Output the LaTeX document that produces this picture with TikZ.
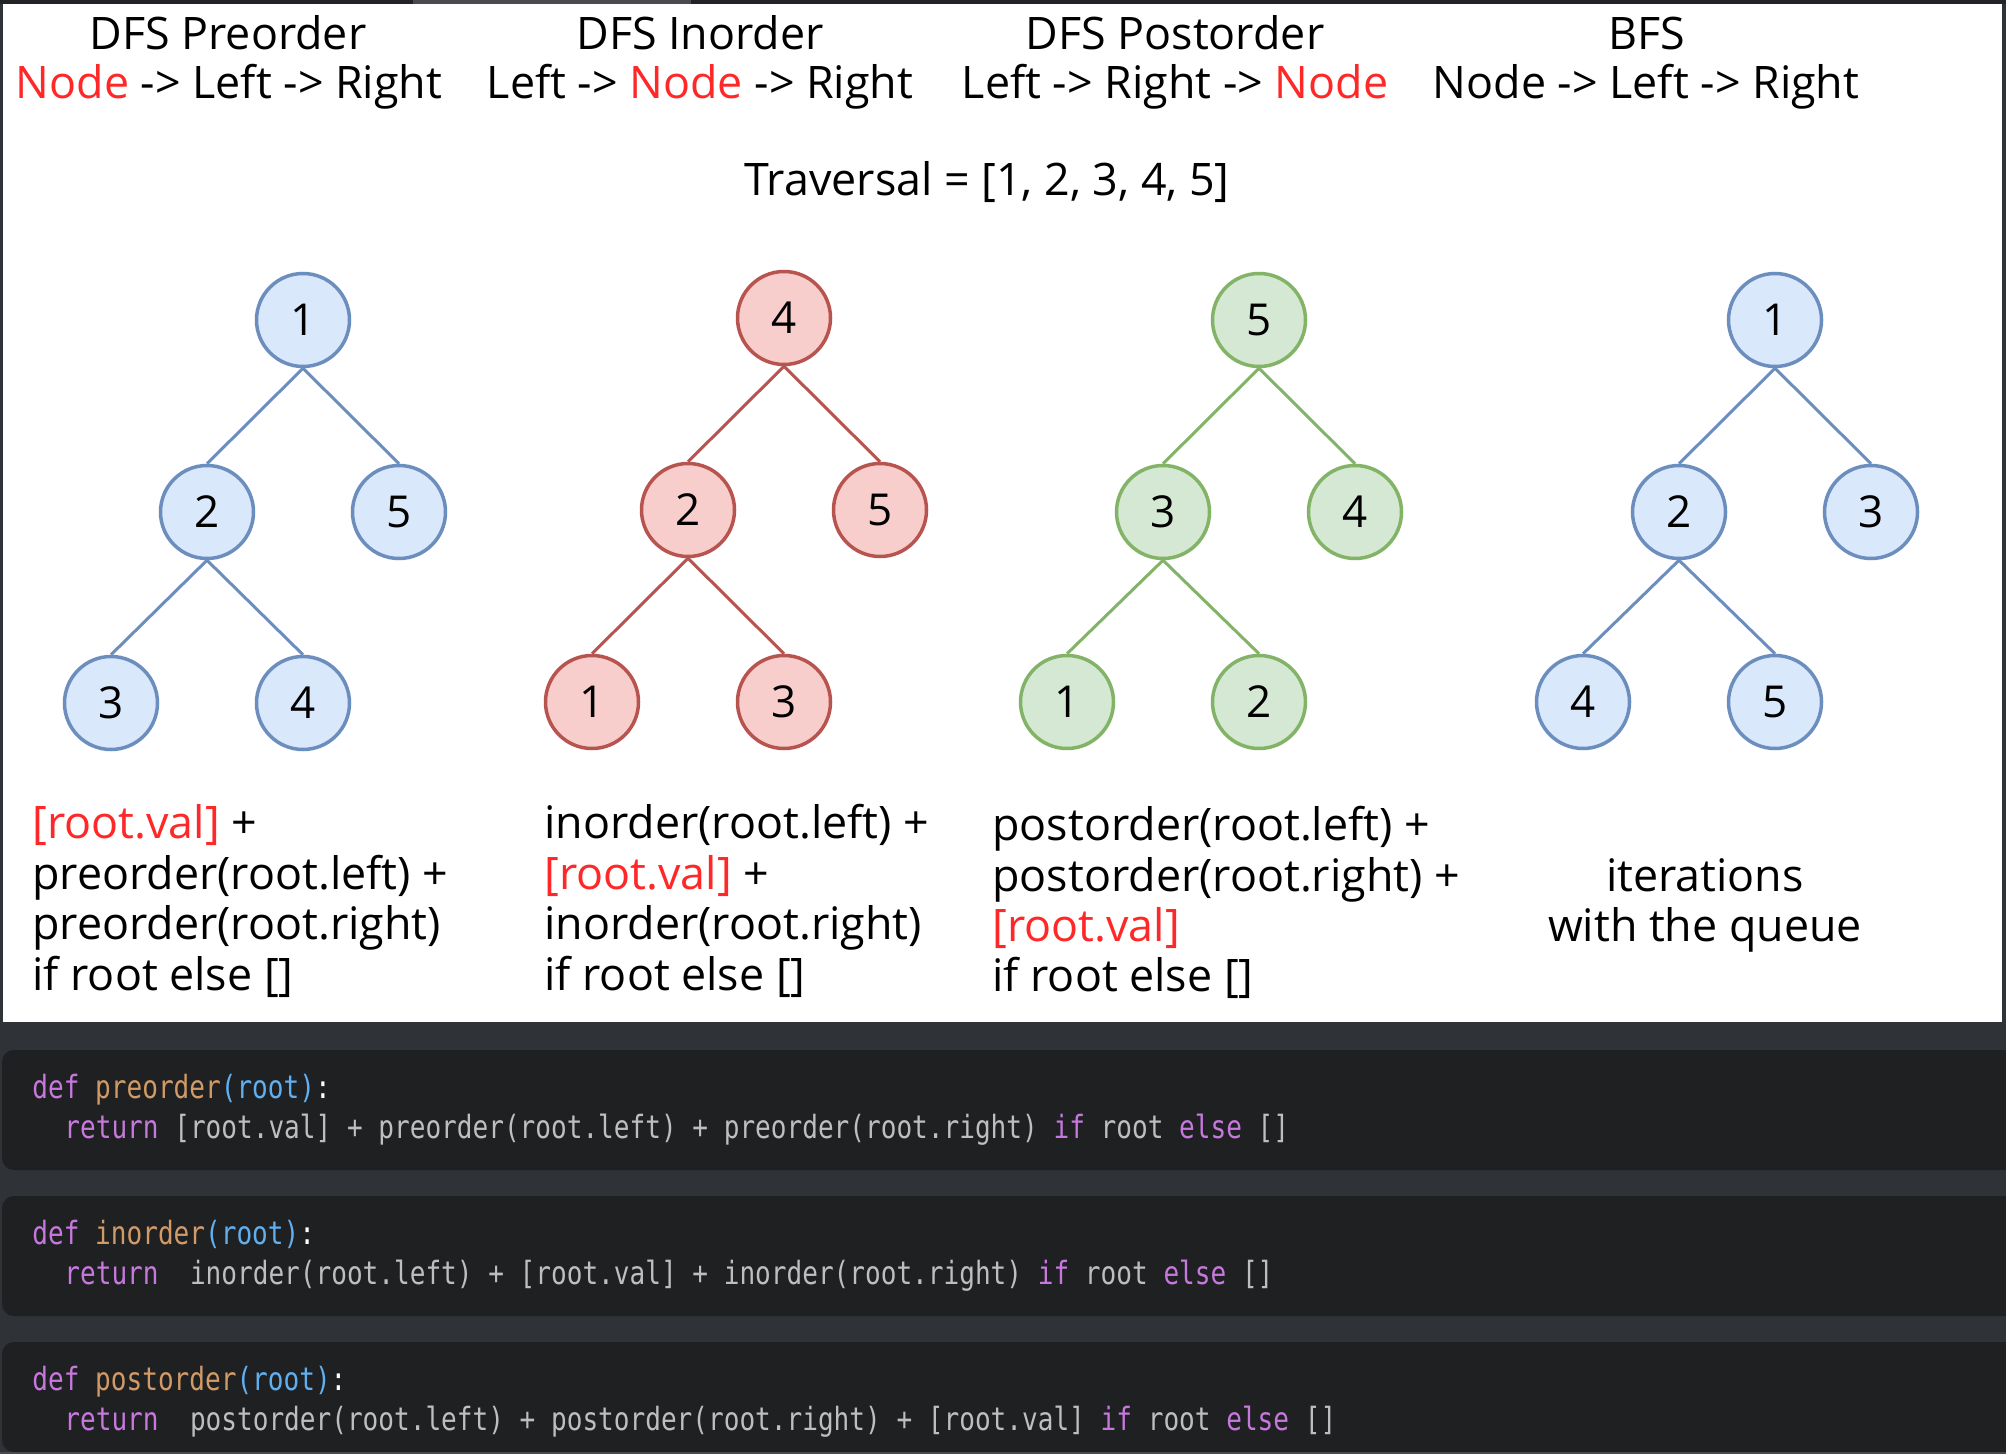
\documentclass[tikz,border=0pt]{standalone}
\usepackage{fontspec}
\setmainfont{Open Sans}
\newfontfamily\codefont[FakeStretch=0.815]{DejaVu Sans Mono}

\definecolor{panelbg}{RGB}{47,50,55}
\definecolor{topdark}{RGB}{34,35,38}
\definecolor{toplight}{RGB}{72,74,78}
\definecolor{blockbg}{RGB}{31,32,34}
\definecolor{hlred}{RGB}{255,40,40}
\definecolor{bluefill}{RGB}{218,232,252}
\definecolor{bluedraw}{RGB}{108,142,191}
\definecolor{redfill}{RGB}{248,206,204}
\definecolor{reddraw}{RGB}{184,84,80}
\definecolor{greenfill}{RGB}{213,232,212}
\definecolor{greendraw}{RGB}{130,179,102}
\definecolor{kwpurple}{RGB}{198,120,221}
\definecolor{fnorange}{RGB}{209,154,102}
\definecolor{prmblue}{RGB}{97,175,239}
\definecolor{codegray}{RGB}{190,190,190}

% colour macros for the code lines
\newcommand{\kwd}[1]{\textcolor{kwpurple}{#1}}
\newcommand{\fnm}[1]{\textcolor{fnorange}{#1}}
\newcommand{\prm}[1]{\textcolor{prmblue}{#1}}
\newcommand{\hl}[1]{\textcolor{hlred}{#1}}

\begin{document}
\begin{tikzpicture}[x=0.5pt, y=-0.5pt,
  txt/.style={font=\fontsize{22.4}{25}\selectfont, inner sep=0pt},
  codetxt/.style={font=\codefont\fontsize{16}{19}\selectfont, text=codegray, anchor=base west, inner sep=0pt},
  tnode/.style={circle, line width=1.75pt, minimum size=46.5pt, inner sep=0pt, font=\fontsize{22}{25}\selectfont},
  bluenode/.style={tnode, draw=bluedraw, fill=bluefill},
  rednode/.style={tnode, draw=reddraw, fill=redfill},
  greennode/.style={tnode, draw=greendraw, fill=greenfill},
  blueedge/.style={draw=bluedraw, line width=1.5pt},
  rededge/.style={draw=reddraw, line width=1.5pt},
  greenedge/.style={draw=greendraw, line width=1.5pt}]

  % Background, white panel and code blocks
  \useasboundingbox (0,0) rectangle (2006,1454);
  \fill[panelbg] (0,0) rectangle (2006,1454);
  \fill[topdark] (0,0) rectangle (2006,4);
  \fill[toplight] (413,0) rectangle (691,4);
  \fill[white] (3,4) rectangle (2002,1022);
  \fill[blockbg, rounded corners=6] (2,1050) rectangle (2040,1170);
  \fill[blockbg, rounded corners=6] (2,1196) rectangle (2040,1316);
  \fill[blockbg, rounded corners=6] (2,1342) rectangle (2040,1452);
  \fill[toplight] (0,1452) rectangle (2006,1454);

  % Headings
  \node[txt, anchor=base] (hpre) at (228,50) {DFS Preorder};
  \node[txt, anchor=base] (hin) at (700,50) {DFS Inorder};
  \node[txt, anchor=base] (hpost) at (1175,50) {DFS Postorder};
  \node[txt, anchor=base] (hbfs) at (1647,50) {BFS};
  \node[txt, anchor=base] (opre) at (229,99) {\hl{Node} -> Left -> Right};
  \node[txt, anchor=base] (oin) at (700,99) {Left -> \hl{Node} -> Right};
  \node[txt, anchor=base] (opost) at (1175,99) {Left -> Right -> \hl{Node}};
  \node[txt, anchor=base] (obfs) at (1646,99) {Node -> Left -> Right};
  \node[txt, anchor=base] (trav) at (987,196) {Traversal = [1, 2, 3, 4, 5]};

  % DFS Preorder tree
  \node[bluenode] (P1) at (303,320) {1};
  \node[bluenode] (P2) at (207,512) {2};
  \node[bluenode] (P5) at (399,512) {5};
  \node[bluenode] (P3) at (111,703) {3};
  \node[bluenode] (P4) at (303,703) {4};
  \draw[blueedge] (P1.south) -- (P2.north);
  \draw[blueedge] (P1.south) -- (P5.north);
  \draw[blueedge] (P2.south) -- (P3.north);
  \draw[blueedge] (P2.south) -- (P4.north);

  % DFS Inorder tree
  \node[rednode] (I4) at (784,318) {4};
  \node[rednode] (I2) at (688,510) {2};
  \node[rednode] (I5) at (880,510) {5};
  \node[rednode] (I1) at (592,702) {1};
  \node[rednode] (I3) at (784,702) {3};
  \draw[rededge] (I4.south) -- (I2.north);
  \draw[rededge] (I4.south) -- (I5.north);
  \draw[rededge] (I2.south) -- (I1.north);
  \draw[rededge] (I2.south) -- (I3.north);

  % DFS Postorder tree
  \node[greennode] (Q5) at (1259,320) {5};
  \node[greennode] (Q3) at (1163,512) {3};
  \node[greennode] (Q4) at (1355,512) {4};
  \node[greennode] (Q1) at (1067,702) {1};
  \node[greennode] (Q2) at (1259,702) {2};
  \draw[greenedge] (Q5.south) -- (Q3.north);
  \draw[greenedge] (Q5.south) -- (Q4.north);
  \draw[greenedge] (Q3.south) -- (Q1.north);
  \draw[greenedge] (Q3.south) -- (Q2.north);

  % BFS tree
  \node[bluenode] (B1) at (1775,320) {1};
  \node[bluenode] (B2) at (1679,512) {2};
  \node[bluenode] (B3) at (1871,512) {3};
  \node[bluenode] (B4) at (1583,702) {4};
  \node[bluenode] (B5) at (1775,702) {5};
  \draw[blueedge] (B1.south) -- (B2.north);
  \draw[blueedge] (B1.south) -- (B3.north);
  \draw[blueedge] (B2.south) -- (B4.north);
  \draw[blueedge] (B2.south) -- (B5.north);

  % Recursive formulas
  \node[txt, anchor=base west] (fpre1) at (32,838) {\hl{[root.val]} +};
  \node[txt, anchor=base west] (fpre2) at (32,889) {preorder(root.left) +};
  \node[txt, anchor=base west] (fpre3) at (32,939) {preorder(root.right)};
  \node[txt, anchor=base west] (fpre4) at (32,990) {if root else []};
  \node[txt, anchor=base west] (fin1) at (544,838) {inorder(root.left) +};
  \node[txt, anchor=base west] (fin2) at (544,889) {\hl{[root.val]} +};
  \node[txt, anchor=base west] (fin3) at (544,939) {inorder(root.right)};
  \node[txt, anchor=base west] (fin4) at (544,990) {if root else []};
  \node[txt, anchor=base west] (fpost1) at (992,840) {postorder(root.left) +};
  \node[txt, anchor=base west] (fpost2) at (992,891) {postorder(root.right) +};
  \node[txt, anchor=base west] (fpost3) at (992,941) {\hl{[root.val]}};
  \node[txt, anchor=base west] (fpost4) at (992,991) {if root else []};
  \node[txt, anchor=base] (fbfs1) at (1705,891) {iterations};
  \node[txt, anchor=base] (fbfs2) at (1705,941) {with the queue};

  % Code blocks
  \node[codetxt] (cpre1) at (32,1098) {\kwd{def} \fnm{preorder}\prm{(root)}\textcolor{white}{:}};
  \node[codetxt] (cpre2) at (64,1138) {\kwd{return} [root.val] + preorder(root.left) + preorder(root.right) \kwd{if} root \kwd{else} []};
  \node[codetxt] (cin1) at (32,1244) {\kwd{def} \fnm{inorder}\prm{(root)}\textcolor{white}{:}};
  \node[codetxt] (cin2) at (64,1284) {\kwd{return}\ \ inorder(root.left) + [root.val] + inorder(root.right) \kwd{if} root \kwd{else} []};
  \node[codetxt] (cpost1) at (32,1390) {\kwd{def} \fnm{postorder}\prm{(root)}\textcolor{white}{:}};
  \node[codetxt] (cpost2) at (64,1430) {\kwd{return}\ \ postorder(root.left) + postorder(root.right) + [root.val] \kwd{if} root \kwd{else} []};

\end{tikzpicture}
\end{document}
